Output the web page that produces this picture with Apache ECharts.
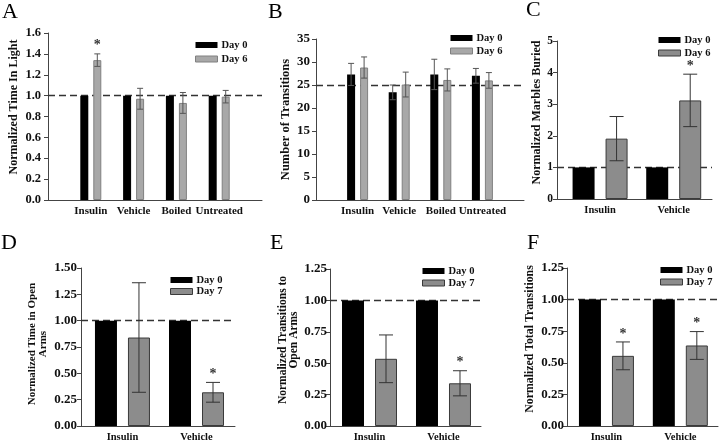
<!DOCTYPE html>
<html>
<head>
<meta charset="utf-8">
<script src="https://cdn.jsdelivr.net/npm/echarts@6/dist/echarts.min.js"></script>
<style>html,body{margin:0;padding:0;background:#fff}#c{width:720px;height:443px}</style>
</head>
<body>
<div id="c"></div>
<script>
// ---------- DATA ----------
const catsA = ['Insulin', 'Vehicle', 'Boiled', 'Untreated'];
const day0A = [1, 1, 1, 1];
const day6A = [1.34, 0.97, 0.93, 0.99];
const err6A = [0.06, 0.10, 0.10, 0.06];
const starA = [1, 0, 0, 0];
const yTicksA = [0, 1.6, 0.2];

const catsB = ['Insulin', 'Vehicle', 'Boiled', 'Untreated'];
const day0B = [27.3, 23.4, 27.3, 27.0];
const err0B = [2.4, 1.6, 3.3, 1.6];
const day6B = [28.8, 25.1, 26.1, 26.0];
const err6B = [2.3, 2.7, 2.4, 1.7];
const yTicksB = [0, 35, 5];

const catsC = ['Insulin', 'Vehicle'];
const day0C = [1, 1];
const day6C = [1.91, 3.12];
const err6C = [0.70, 0.83];
const starC = [0, 1];
const yTicksC = [0, 5, 1];

const catsD = ['Insulin', 'Vehicle'];
const day0D = [1, 1];
const day7D = [0.84, 0.32];
const err7D = [0.52, 0.094];
const starD = [0, 1];
const yTicksD = [0, 1.5, 0.25];

const catsE = ['Insulin', 'Vehicle'];
const day0E = [1, 1];
const day7E = [0.535, 0.34];
const err7E = [0.19, 0.10];
const starE = [0, 1];
const yTicksE = [0, 1.25, 0.25];

const catsF = ['Insulin', 'Vehicle'];
const day0F = [1, 1];
const day7F = [0.555, 0.637];
const err7F = [0.11, 0.11];
const starF = [1, 1];
const yTicksF = [0, 1.25, 0.25];

const refLines = [1, 25, 1, 1, 1, 1];

// ---------- PANELS ----------
const FONT = 'Liberation Serif';
const panels = [
  {letter:'A', cats:catsA, s0:day0A, e0:null, s1:day6A, e1:err6A, star:starA, yt:yTicksA, dec:1, name1:'Day 6',
   yName:'Normalized Time In Light'},
  {letter:'B', cats:catsB, s0:day0B, e0:err0B, s1:day6B, e1:err6B, star:null, yt:yTicksB, dec:0, name1:'Day 6',
   yName:'Number of Transitions'},
  {letter:'C', cats:catsC, s0:day0C, e0:null, s1:day6C, e1:err6C, star:starC, yt:yTicksC, dec:0, name1:'Day 6',
   yName:'Normalized Marbles Buried'},
  {letter:'D', cats:catsD, s0:day0D, e0:null, s1:day7D, e1:err7D, star:starD, yt:yTicksD, dec:2, name1:'Day 7',
   yName:'Normalized Time in Open\nArms'},
  {letter:'E', cats:catsE, s0:day0E, e0:null, s1:day7E, e1:err7E, star:starE, yt:yTicksE, dec:2, name1:'Day 7',
   yName:'Normalized Transitions to\nOpen Arms'},
  {letter:'F', cats:catsF, s0:day0F, e0:null, s1:day7F, e1:err7F, star:starF, yt:yTicksF, dec:2, name1:'Day 7',
   yName:'Normalized Total Transitions'}
];

// layout / style (no data)
const layout = [
  {left:48, top:33, width:214, height:167, xMin:0, xMax:5, barW:8, gap:5, cap:6, gray:'#a8a8a8', grayB:'#808080', errC:'#555',
   tx:2, ty:1, lgL:195, lgT:39.5, lgGap:3, nameGap:28, nameFs:12, namePad:19, lblM:7, tickFs:12.5, catFs:11, nameLH:12},
  {left:316, top:39, width:208, height:161, xMin:0, xMax:5, barW:8, gap:5, cap:6, gray:'#a8a8a8', grayB:'#808080', errC:'#555',
   tx:268, ty:1, lgL:450, lgT:32.5, lgGap:2, nameGap:24, nameFs:12.5, namePad:0, lblM:6, tickFs:13, catFs:11, nameLH:12},
  {left:557, top:41, width:155, height:158, xMin:0.415, xMax:2.52, barW:22, gap:11, cap:14, gray:'#8c8c8c', grayB:'#3a3a3a', errC:'#333',
   tx:526, ty:-1, lgL:658, lgT:34.5, lgGap:2, nameGap:10, nameFs:12, namePad:15, lblM:4, tickFs:11.5, catFs:10.5, nameLH:12},
  {left:81, top:268, width:154, height:160, xMin:0.44, xMax:2.52, barW:22, gap:11, cap:14, gray:'#8c8c8c', grayB:'#3a3a3a', errC:'#333',
   tx:1, ty:232, lgL:170, lgT:274.5, lgGap:0.5, nameGap:33, nameFs:11, namePad:6, lblM:4, tickFs:13, catFs:10.5, nameLH:10.5},
  {left:330, top:269, width:151, height:159, xMin:0.466, xMax:2.507, barW:22, gap:11, cap:14, gray:'#8c8c8c', grayB:'#3a3a3a', errC:'#333',
   tx:270, ty:232, lgL:422, lgT:265.5, lgGap:1, nameGap:30, nameFs:11.5, namePad:15, lblM:3, tickFs:13, catFs:10.5, nameLH:11},
  {left:567, top:268, width:151, height:160, xMin:0.466, xMax:2.51, barW:22, gap:11, cap:14, gray:'#8c8c8c', grayB:'#3a3a3a', errC:'#333',
   tx:527, ty:232, lgL:660, lgT:264.5, lgGap:1, nameGap:31, nameFs:11.8, namePad:16, lblM:3, tickFs:13, catFs:10.5, nameLH:12}
];

const option = {
  animation: false,
  backgroundColor: '#fff',
  textStyle: {fontFamily: FONT},
  grid: [], xAxis: [], yAxis: [], series: [], legend: [], graphic: []
};

function makeErr(off, cap, color) {
  return function (params, api) {
    const x = api.value(0), m = api.value(1), e = api.value(2), side = api.value(3), star = api.value(4);
    const top = api.coord([x, m + e]);
    const bot = api.coord([x, m - e]);
    const cx = top[0] + (side ? off : -off);
    const ch = [];
    if (e > 0) {
      ch.push({type:'line', shape:{x1:cx, y1:top[1], x2:cx, y2:bot[1]}, style:{stroke:color, lineWidth:1}});
      ch.push({type:'line', shape:{x1:cx - cap/2, y1:top[1], x2:cx + cap/2, y2:top[1]}, style:{stroke:color, lineWidth:1}});
      ch.push({type:'line', shape:{x1:cx - cap/2, y1:bot[1], x2:cx + cap/2, y2:bot[1]}, style:{stroke:color, lineWidth:1}});
    }
    if (star) {
      ch.push({type:'text', style:{text:'*', x:cx, y:top[1] - 8, align:'center', verticalAlign:'middle',
        font:'bold 14px ' + FONT, fill:'#333'}});
    }
    return {type:'group', children:ch};
  };
}

panels.forEach((p, i) => {
  const L = layout[i];
  option.grid.push({left:L.left, top:L.top, width:L.width, height:L.height, containLabel:false});
  option.xAxis.push({
    gridIndex:i, type:'value', min:L.xMin, max:L.xMax,
    axisLine:{show:true, onZero:false, lineStyle:{color:'#444', width:1}},
    axisTick:{show:false}, splitLine:{show:false},
    axisLabel:{customValues:p.cats.map((_, k) => k + 1), margin:6,
      formatter:v => (Number.isInteger(v) && p.cats[v - 1]) ? p.cats[v - 1] : '',
      fontFamily:FONT, fontWeight:'bold', fontSize:L.catFs, color:'#111'}
  });
  option.yAxis.push({
    gridIndex:i, type:'value', min:p.yt[0], max:p.yt[1], interval:p.yt[2],
    axisLine:{show:true, lineStyle:{color:'#444', width:1}},
    axisTick:{show:true, length:4, lineStyle:{color:'#444'}}, splitLine:{show:false},
    axisLabel:{formatter:v => v.toFixed(p.dec), margin:L.lblM, fontFamily:FONT, fontWeight:'bold', fontSize:L.tickFs, color:'#111'},
    name:p.yName, nameLocation:'middle', nameGap:L.nameGap,
    nameTextStyle:{fontFamily:FONT, fontWeight:'bold', fontSize:L.nameFs, color:'#111', lineHeight:L.nameLH,
      padding:[0, 0, 0, L.namePad]}
  });
  const x0 = p.cats.map((_, k) => [k + 1, p.s0[k]]);
  const x1 = p.cats.map((_, k) => [k + 1, p.s1[k]]);
  option.series.push({
    type:'bar', name:'Day 0', xAxisIndex:i, yAxisIndex:i, data:x0, barWidth:L.barW,
    barGap:(L.gap / L.barW * 100) + '%', itemStyle:{color:'#000'}, z:2,
    markLine:{silent:true, symbol:'none', label:{show:false}, z:1,
      lineStyle:{type:[7, 4], color:'#333', width:1.4}, data:[{yAxis:refLines[i]}]}
  });
  option.series.push({
    type:'bar', name:p.name1, xAxisIndex:i, yAxisIndex:i, data:x1, barWidth:L.barW,
    barGap:(L.gap / L.barW * 100) + '%', itemStyle:{color:L.gray, borderColor:L.grayB, borderWidth:1}, z:2
  });
  const errData = [];
  p.cats.forEach((_, k) => {
    if (p.e0) errData.push([k + 1, p.s0[k], p.e0[k], 0, 0]);
    errData.push([k + 1, p.s1[k], p.e1[k], 1, p.star ? p.star[k] : 0]);
  });
  option.series.push({
    type:'custom', name:'err' + i, xAxisIndex:i, yAxisIndex:i, data:errData, z:5, silent:true,
    renderItem:makeErr((L.barW + L.gap) / 2, L.cap, L.errC)
  });
  option.legend.push({
    orient:'vertical', left:L.lgL, top:L.lgT, padding:0, itemGap:L.lgGap, itemWidth:22, itemHeight:6,
    icon:'rect', selectedMode:false,
    textStyle:{fontFamily:FONT, fontWeight:'bold', fontSize:10.5, color:'#111', padding:[0, 0, 0, -1]},
    data:[{name:'Day 0', itemStyle:{color:'#000'}},
          {name:p.name1, itemStyle:{color:L.gray, borderColor:L.grayB, borderWidth:1}}]
  });
  option.graphic.push({type:'text', left:L.tx, top:L.ty, style:{text:p.letter, font:'22px ' + FONT, fill:'#000'}});
});

const chart = echarts.init(document.getElementById('c'), null, {renderer:'canvas'});
chart.setOption(option);
</script>
</body>
</html>
